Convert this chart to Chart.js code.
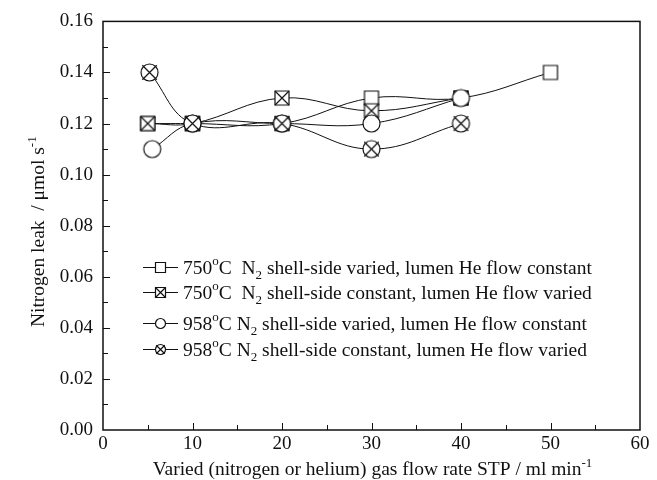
<!DOCTYPE html>
<html>
<head>
<meta charset="utf-8">
<script src="https://cdn.jsdelivr.net/npm/chart.js@4.4.1/dist/chart.umd.min.js"></script>
<style>
  html, body { margin: 0; padding: 0; background: #fff; }
  canvas { display: block; }
</style>
</head>
<body>
<canvas id="leak" width="657" height="480"></canvas>
<script>
// nitrogen leak vs. varied gas flow (ml/min STP)
const flow750Varied = [5, 10, 20, 30, 40, 50];
const leak750Varied = [0.12, 0.12, 0.12, 0.13, 0.13, 0.14];

const flow750Const = [5, 10, 20, 30, 40];
const leak750Const = [0.12, 0.12, 0.13, 0.125, 0.13];

const flow958Varied = [5.5, 10, 20, 30, 40];
const leak958Varied = [0.11, 0.12, 0.12, 0.12, 0.13];

const flow958Const = [5.2, 10, 20, 30, 40];
const leak958Const = [0.14, 0.12, 0.12, 0.11, 0.12];

const legendTemps = ['750', '750', '958', '958'];
const legendGaps = ['C  N', 'C  N', 'C N', 'C N'];
const legendText = [
  ' shell-side varied, lumen He flow constant',
  ' shell-side constant, lumen He flow varied',
  ' shell-side varied, lumen He flow constant',
  ' shell-side constant, lumen He flow varied'
];
const legendShapes = ['square', 'xsquare', 'circle', 'xcircle'];

const xTitle = 'Varied (nitrogen or helium) gas flow rate STP / ml min';
const yTitle = 'Nitrogen leak  / \u03bcmol s';

const FONT = '"Liberation Serif", "Times New Roman", serif';
const INK = '#111';
const TEXT_SIZE = 19.5;

const toPoints = (xs, ys) => xs.map((x, i) => ({x: x, y: ys[i]}));

// draws one marker shape centred on (cx, cy)
const drawShape = (ctx, shape, cx, cy, size) => {
  const h = size / 2;
  ctx.save();
  ctx.fillStyle = '#fff';
  ctx.strokeStyle = INK;
  ctx.lineWidth = 1.2;
  ctx.beginPath();
  if (shape == 'square' || shape == 'xsquare') {
    ctx.rect(cx - h, cy - h, size, size);
  } else {
    ctx.arc(cx, cy, h, 0, Math.PI * 2);
  }
  ctx.fill();
  ctx.stroke();
  if (shape == 'xsquare' || shape == 'xcircle') {
    const d = shape == 'xsquare' ? h : h * 0.85;
    ctx.beginPath();
    ctx.moveTo(cx - d, cy - d); ctx.lineTo(cx + d, cy + d);
    ctx.moveTo(cx + d, cy - d); ctx.lineTo(cx - d, cy + d);
    ctx.stroke();
  }
  ctx.restore();
};

const markerImage = (shape, size) => {
  const c = document.createElement('canvas');
  c.width = size + 4;
  c.height = size + 4;
  drawShape(c.getContext('2d'), shape, c.width / 2, c.height / 2, size);
  return c;
};

// text with superscript / subscript pieces
const drawRich = (ctx, parts, x, y, size, align) => {
  const small = Math.round(size * 0.66);
  let total = 0;
  parts.forEach(p => {
    ctx.font = (p.sup || p.sub ? small : size) + 'px ' + FONT;
    total += ctx.measureText(p.t).width;
  });
  let cx = align == 'center' ? x - total / 2 : x;
  ctx.textAlign = 'left';
  ctx.textBaseline = 'alphabetic';
  parts.forEach(p => {
    ctx.font = (p.sup || p.sub ? small : size) + 'px ' + FONT;
    let dy = 0;
    if (p.sup) dy = -size * 0.42;
    if (p.sub) dy = size * 0.3;
    ctx.fillText(p.t, cx, y + dy);
    cx += ctx.measureText(p.t).width;
  });
};

const framePlugin = {
  id: 'frame',
  afterDraw: (chart) => {
    const ctx = chart.ctx;
    const a = chart.chartArea;
    const xs = chart.scales.x;
    const ys = chart.scales.y;
    ctx.save();
    ctx.strokeStyle = INK;
    ctx.fillStyle = INK;

    // inward tick marks
    ctx.lineWidth = 1;
    ctx.beginPath();
    for (let v = 5; v < 60; v += 5) {
      const px = Math.round(xs.getPixelForValue(v)) + 0.5;
      const len = v % 10 == 0 ? 7 : 5;
      ctx.moveTo(px, a.bottom);
      ctx.lineTo(px, a.bottom - len);
    }
    for (let i = 1; i < 16; i++) {
      const py = Math.round(ys.getPixelForValue(i / 100)) + 0.5;
      const len = i % 2 == 0 ? 7 : 5;
      ctx.moveTo(a.left, py);
      ctx.lineTo(a.left + len, py);
    }
    ctx.stroke();

    // plot box
    ctx.lineWidth = 1.5;
    ctx.strokeRect(a.left, a.top, a.right - a.left, a.bottom - a.top);

    // axis titles
    drawRich(ctx, [{t: xTitle}, {t: '-1', sup: true}], (a.left + a.right) / 2 + 1, 475, TEXT_SIZE, 'center');
    ctx.save();
    ctx.translate(44, (a.top + a.bottom) / 2 + 6);
    ctx.rotate(-Math.PI / 2);
    drawRich(ctx, [{t: yTitle}, {t: '-1', sup: true}], 0, 0, TEXT_SIZE, 'center');
    ctx.restore();

    // legend
    const rows = [267, 292, 323, 349];
    legendShapes.forEach((shape, i) => {
      const y = rows[i];
      ctx.lineWidth = 1;
      ctx.beginPath();
      ctx.moveTo(143, y + 0.5);
      ctx.lineTo(178, y + 0.5);
      ctx.stroke();
      drawShape(ctx, shape, 160.5, y + 0.5, 10);
      ctx.fillStyle = INK;
      drawRich(ctx, [
        {t: legendTemps[i]}, {t: 'o', sup: true}, {t: legendGaps[i]},
        {t: '2', sub: true}, {t: legendText[i]}
      ], 183, y + 6.5, TEXT_SIZE, 'left');
    });
    ctx.restore();
  }
};

const lineSet = (label, xs, ys, shape, order) => {
  const big = shape == 'square' || shape == 'xsquare' ? 14 : 17;
  return {
    label: label,
    data: toPoints(xs, ys),
    borderColor: INK,
    borderWidth: 1,
    backgroundColor: '#fff',
    pointStyle: markerImage(shape, big),
    pointRadius: big / 2,
    tension: 0.4,
    fill: false,
    order: order
  };
};

new Chart(document.getElementById('leak'), {
  type: 'line',
  data: {
    datasets: [
      lineSet('750 N2 varied', flow750Varied, leak750Varied, 'square', 4),
      lineSet('750 N2 constant', flow750Const, leak750Const, 'xsquare', 3),
      lineSet('958 N2 varied', flow958Varied, leak958Varied, 'circle', 2),
      lineSet('958 N2 constant', flow958Const, leak958Const, 'xcircle', 1)
    ]
  },
  options: {
    responsive: false,
    devicePixelRatio: 1,
    animation: false,
    layout: { padding: { top: 20, right: 17, left: 0, bottom: 0 } },
    plugins: { legend: { display: false }, tooltip: { enabled: false } },
    scales: {
      x: {
        type: 'linear',
        min: 0,
        max: 60,
        ticks: { stepSize: 10, color: INK, font: { family: FONT, size: 19 }, padding: 3 },
        grid: { display: false, drawTicks: false },
        border: { display: false },
        afterFit: (s) => { s.height = 50; }
      },
      y: {
        min: 0,
        max: 0.16,
        ticks: {
          stepSize: 0.02,
          color: INK,
          font: { family: FONT, size: 19 },
          padding: 10,
          callback: (v) => v.toFixed(2)
        },
        grid: { display: false, drawTicks: false },
        border: { display: false },
        afterFit: (s) => { s.width = 103; }
      }
    }
  },
  plugins: [framePlugin]
});
</script>
</body>
</html>
